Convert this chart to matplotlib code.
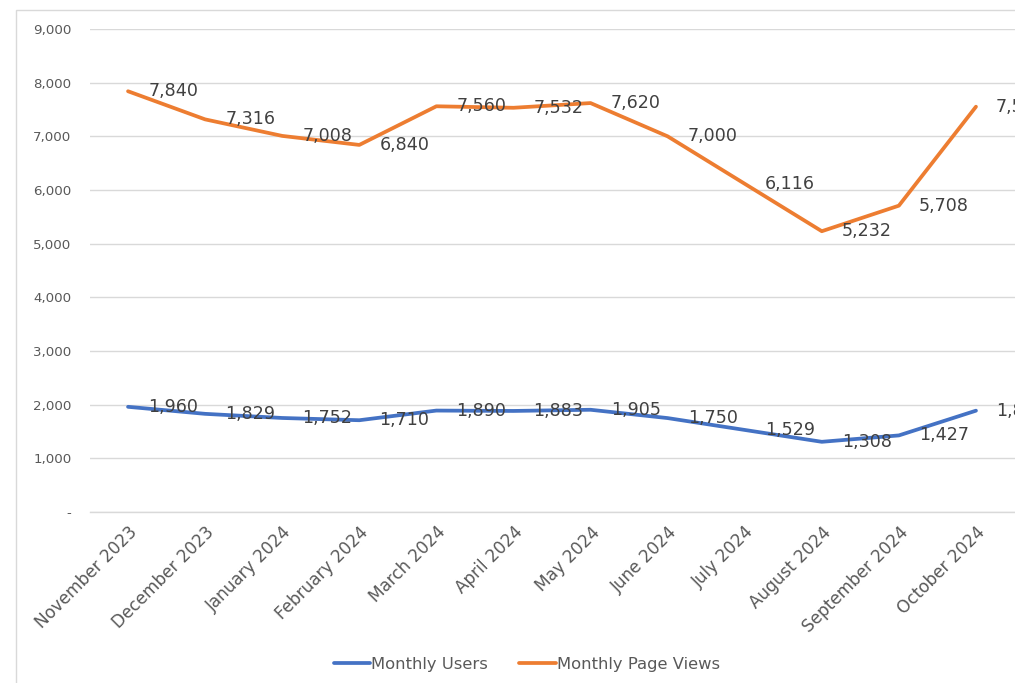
import matplotlib
matplotlib.use("Agg")
import matplotlib.pyplot as plt
from matplotlib.patches import Rectangle
from matplotlib.ticker import FuncFormatter

months = ["November 2023", "December 2023", "January 2024", "February 2024",
          "March 2024", "April 2024", "May 2024", "June 2024", "July 2024",
          "August 2024", "September 2024", "October 2024"]
users = [1960, 1829, 1752, 1710, 1890, 1883, 1905, 1750, 1529, 1308, 1427, 1888]
page_views = [7840, 7316, 7008, 6840, 7560, 7532, 7620, 7000, 6116, 5232, 5708, 7552]

W, H, DPI = 1015, 683, 100
fig = plt.figure(figsize=(W / DPI, H / DPI), dpi=DPI)
fig.patch.set_facecolor("white")

# chart border
fig.patches.append(Rectangle((16 / W, -0.05), 1.2, 1 - 10 / H + 0.05,
                             transform=fig.transFigure, fill=False,
                             edgecolor="#D9D9D9", linewidth=1.0))

left, right = 89.5 / W, 1014.5 / W
top, bottom = 1 - 29 / H, 1 - 512 / H
ax = fig.add_axes([left, bottom, right - left, top - bottom])
ax.set_facecolor("none")

x = list(range(len(months)))
blue = "#4472C4"
orange = "#ED7D31"
ax.plot(x, users, color=blue, lw=2.7, solid_capstyle="round", solid_joinstyle="round",
        label="Monthly Users", clip_on=False, zorder=3)
ax.plot(x, page_views, color=orange, lw=2.7, solid_capstyle="round", solid_joinstyle="round",
        label="Monthly Page Views", clip_on=False, zorder=3)

for xi, v in zip(x, users):
    ax.annotate(f"{v:,}", (xi, v), xytext=(14.5, 0), textcoords="offset points",
                ha="left", va="center", fontsize=12.6, color="#404040",
                annotation_clip=False, zorder=4)
for xi, v in zip(x, page_views):
    ax.annotate(f"{v:,}", (xi, v), xytext=(14.5, 0), textcoords="offset points",
                ha="left", va="center", fontsize=12.6, color="#404040",
                annotation_clip=False, zorder=4)

ax.set_xlim(-0.5, len(months) - 0.5)
ax.set_ylim(0, 9000)
ax.set_yticks(range(0, 9001, 1000))
ax.yaxis.set_major_formatter(FuncFormatter(lambda v, p: "-" if v == 0 else f"{int(v):,}"))
ax.grid(axis="y", color="#D9D9D9", linewidth=1.0)
ax.axhline(0, color="#D9D9D9", linewidth=1.0, clip_on=False, zorder=1)
ax.set_axisbelow(True)
for s in ax.spines.values():
    s.set_visible(False)
ax.tick_params(axis="y", length=0, pad=13, labelsize=9.6, labelcolor="#595959")
ax.tick_params(axis="x", length=0, pad=8)

ax.set_xticks(x)
ax.set_xticklabels(months, rotation=45, ha="right", va="top",
                   rotation_mode="anchor", fontsize=12.2, color="#595959")

leg = fig.legend(loc="center", bbox_to_anchor=(527 / W, 1 - 664 / H), ncol=2,
                 frameon=False, fontsize=11.8, handlelength=2.2, handletextpad=0.1,
                 columnspacing=1.9, labelcolor="#595959")

fig.savefig("out.png", dpi=DPI)
